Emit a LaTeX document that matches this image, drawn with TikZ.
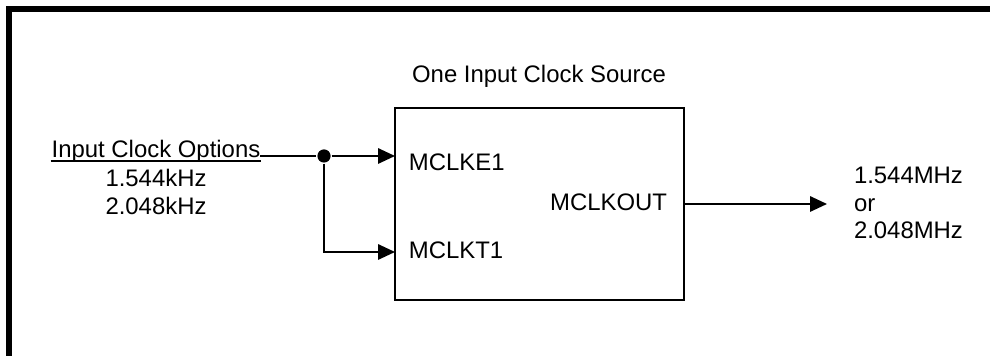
\documentclass[tikz,border=0pt]{standalone}
\usepackage{fontspec}
\setmainfont{Liberation Sans}
\usetikzlibrary{arrows.meta}

\tikzset{lbl/.style={inner sep=0pt, anchor=base, font=\fontsize{17}{19.9}\selectfont},
  arr/.style={-{Triangle[length=0.42cm, width=0.38cm]}}}

\begin{document}
\begin{tikzpicture}[line width=1.4pt]
\useasboundingbox (0,0) rectangle (24.75,8.9);

%Frame
\draw [line width=4.3pt] (0.225,0)--(0.225,8.675)--(24.9,8.675);

%Clock source block
\node [draw, minimum width=7.225cm, minimum height=4.8cm] (box) at (13.4875,3.8) {};
\node [lbl] (title) at (13.475,6.825) {One Input Clock Source};
\node [lbl, anchor=base west] (e1) at (10.2,4.625) {MCLKE1};
\node [lbl, anchor=base west] (t1) at (10.2,2.425) {MCLKT1};
\node [lbl, anchor=base east] (mout) at (16.7,3.625) {MCLKOUT};

%Input side
\node [lbl] (opt) at (3.9,4.95) {Input Clock Options};
\node [lbl] (f1) at (3.9,4.225) {1.544kHz};
\node [lbl] (f2) at (3.9,3.525) {2.048kHz};
\draw [line width=1pt] ([yshift=-0.075cm]opt.base west)--([yshift=-0.075cm]opt.base east);

\coordinate (in) at (6.5,5.0);
\node [circle, fill, inner sep=0pt, minimum size=0.33cm] (junc) at (8.1,5.0) {};
\coordinate (pe) at (9.875,5.0);
\coordinate (pt) at (9.875,2.6);

\draw (in)--(junc);
\draw [arr] (junc)--(pe);
\draw [arr] (junc)|-(pt);

%Output side
\coordinate (out) at (20.675,3.8);
\draw [arr] (box.east)--(out);
\node [lbl, anchor=base west, align=left] (fout) at (21.325,2.925) {1.544MHz\\or\\2.048MHz};

\end{tikzpicture}
\end{document}
